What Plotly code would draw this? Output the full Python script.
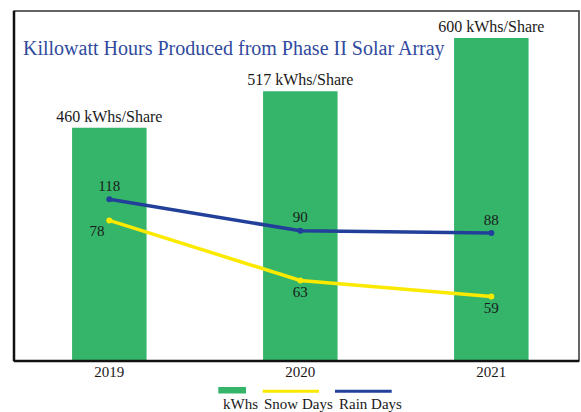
import plotly.graph_objects as go

# ---- data ----
years = ["2019", "2020", "2021"]
kwhs = [460, 517, 600]
snow_days = [78, 63, 59]
rain_days = [118, 90, 88]
bar_labels = [f"{v} kWhs/Share" for v in kwhs]
legend_names = ["kWhs", "Snow Days", "Rain Days"]
title_text = "Killowatt Hours Produced from Phase II Solar Array"

# ---- style ----
GREEN = "#35b56a"
YELLOW = "#fbe900"
BLUE = "#22409a"
TITLE_BLUE = "#2f4a9e"
SERIF = "Liberation Serif, Times New Roman, serif"

W, H = 581, 412
L, R, T, B = 14, 579, 11, 361  # plot area in pixels


def px(x):
    return (x - L) / (R - L)


def py(y):
    return (B - y) / (B - T)


fig = go.Figure()

fig.add_trace(go.Bar(
    x=years, y=kwhs, name=legend_names[0],
    marker=dict(color=GREEN, line=dict(width=0)),
    width=0.39,
    text=bar_labels, textposition="outside", constraintext="none",
    textfont=dict(family=SERIF, size=16, color="#1a1a1a"),
    cliponaxis=False, showlegend=False,
))

fig.add_trace(go.Scatter(
    x=years, y=snow_days, name=legend_names[1], yaxis="y2",
    mode="lines+markers+text",
    line=dict(color=YELLOW, width=3.5),
    marker=dict(color=YELLOW, size=6),
    text=[str(v) for v in snow_days],
    textposition=["bottom left", "bottom center", "bottom center"],
    textfont=dict(family=SERIF, size=15, color="#1a1a1a"),
    cliponaxis=False, showlegend=False,
))

fig.add_trace(go.Scatter(
    x=years, y=rain_days, name=legend_names[2], yaxis="y3",
    mode="lines+markers+text",
    line=dict(color=BLUE, width=3.5),
    marker=dict(color=BLUE, size=6),
    text=[str(v) for v in rain_days],
    textposition="top center",
    textfont=dict(family=SERIF, size=15, color="#1a1a1a"),
    cliponaxis=False, showlegend=False,
))

# frame
shapes = [
    dict(type="rect", xref="paper", yref="paper", x0=0, x1=1, y0=0, y1=1,
         line=dict(color="#333333", width=1.5), layer="above"),
    dict(type="line", xref="paper", yref="paper", x0=0, x1=0, y0=0, y1=1,
         line=dict(color="#111111", width=2.5), layer="above"),
    dict(type="line", xref="paper", yref="paper", x0=0, x1=1, y0=0, y1=0,
         line=dict(color="#111111", width=2.5), layer="above"),
    # custom legend symbols
    dict(type="rect", xref="paper", yref="paper",
         x0=px(218.3), x1=px(246), y0=py(393.5), y1=py(387),
         fillcolor=GREEN, line=dict(width=0)),
    dict(type="line", xref="paper", yref="paper",
         x0=px(262.7), x1=px(319), y0=py(391.3), y1=py(391.3),
         line=dict(color=YELLOW, width=3)),
    dict(type="line", xref="paper", yref="paper",
         x0=px(335), x1=px(391.7), y0=py(391.3), y1=py(391.3),
         line=dict(color=BLUE, width=3)),
]

annotations = [
    dict(text=title_text, xref="paper", yref="paper", x=px(21), y=py(49),
         xanchor="left", yanchor="middle", showarrow=False,
         font=dict(family=SERIF, size=20, color=TITLE_BLUE)),
]
for name, xl in zip(legend_names, [220.7, 261.7, 336.7]):
    annotations.append(dict(
        text=name, xref="paper", yref="paper", x=px(xl), y=py(404),
        xanchor="left", yanchor="middle", showarrow=False,
        font=dict(family=SERIF, size=15, color="#1a1a1a")))

fig.update_layout(
    width=W, height=H,
    margin=dict(l=L, r=W - R, t=T, b=H - B, pad=0),
    paper_bgcolor="white", plot_bgcolor="white",
    showlegend=False,
    bargap=0.6,
    xaxis=dict(type="category", range=[-0.499, 2.459], showgrid=False,
               zeroline=False, showline=False, ticks="",
               tickfont=dict(family=SERIF, size=15, color="#1a1a1a")),
    yaxis=dict(range=[96, 642], visible=False, showgrid=False),
    yaxis2=dict(range=[42.9, 130.3], overlaying="y", visible=False,
                showgrid=False),
    yaxis3=dict(range=[-25.4, 284.8], overlaying="y", visible=False,
                showgrid=False),
    shapes=shapes,
    annotations=annotations,
)

fig.write_html("out.html",
               config={"displayModeBar": False},
               post_script="document.body.style.margin='0';"
                           "document.body.style.overflow='hidden';")
